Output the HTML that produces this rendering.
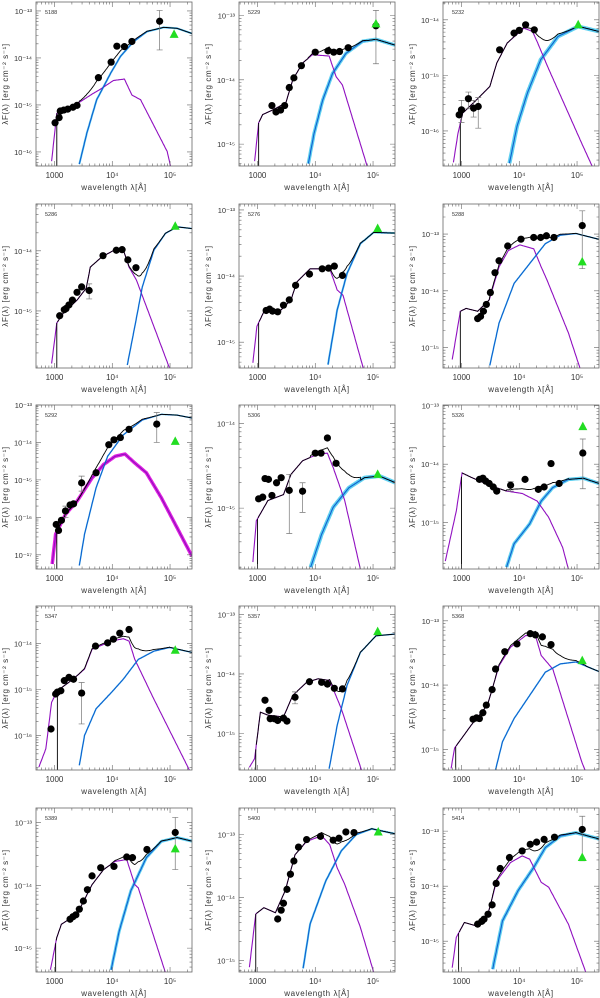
<!DOCTYPE html>
<html><head><meta charset="utf-8"><title>SED fits</title>
<style>
html,body{margin:0;padding:0;background:#fff;}
svg{display:block;font-family:"Liberation Sans",sans-serif;}
</style></head>
<body>
<svg id="fig" xmlns="http://www.w3.org/2000/svg" width="600" height="998" viewBox="0 0 600 998"></svg>
<script>
// ---- data (log10 wavelength [A], log10 lambda*F [erg cm^-2 s^-1]) ----
const panelIds=['5188','5229','5232','5286','5276','5288','5292','5306','5326','5347','5357','5368','5389','5400','5414'];
const yTop=[-12.81,-12.79,-13.68,-13.22,-12.91,-12.47,-13.0,-13.78,-12.99,-13.19,-12.86,-12.77,-12.77,-12.58,-12.58];
const yBot=[-16.30,-15.34,-16.63,-15.95,-15.39,-15.36,-17.38,-15.72,-15.79,-16.75,-15.61,-15.32,-15.38,-15.18,-15.56];
const xMin=2.68, xMax=5.38;
const xTickVals=[3,4,5];
const xTickLabels=['1000','10⁴','10⁵'];
const photLam=[
[3.01,3.08,3.10,3.16,3.23,3.32,3.39,3.76,3.98,4.08,4.21,4.34,4.82],
[3.25,3.32,3.40,3.47,3.55,3.63,3.76,4.0,4.22,4.32,4.42,4.57,5.05],
[2.96,3.0,3.12,3.21,3.29,3.66,3.91,4.0,4.11,4.26],
[3.09,3.17,3.2,3.25,3.31,3.39,3.47,3.6,3.84,4.07,4.17,4.27,4.41],
[3.15,3.21,3.26,3.35,3.45,3.55,3.66,3.9,4.12,4.23,4.33,4.47],
[3.28,3.33,3.38,3.43,3.5,3.58,3.65,3.8,4.03,4.25,4.37,4.47,4.6,5.09],
[3.03,3.07,3.12,3.19,3.27,3.33,3.47,3.72,3.94,4.03,4.14,4.29,4.77],
[3.02,3.09,3.13,3.19,3.25,3.33,3.41,3.55,3.78,4.0,4.1,4.21,4.36],
[3.31,3.37,3.42,3.48,3.55,3.61,3.85,4.1,4.33,4.43,4.55,4.69,5.1],
[2.94,3.02,3.05,3.11,3.17,3.25,3.33,3.47,3.71,3.92,4.02,4.13,4.29],
[3.13,3.2,3.22,3.29,3.35,3.45,3.51,3.65,3.9,4.11,4.21,4.33,4.47],
[3.2,3.26,3.31,3.37,3.43,3.53,3.59,3.75,3.96,4.19,4.28,4.4,4.55],
[3.27,3.32,3.37,3.43,3.5,3.57,3.65,3.8,4.03,4.25,4.35,4.6,5.09],
[3.35,3.41,3.45,3.51,3.57,3.63,3.71,3.85,4.09,4.31,4.41,4.53,4.67],
[3.28,3.35,3.39,3.46,3.53,3.6,3.67,3.83,4.05,4.19,4.3,4.43,4.61,5.09]];
const photFlux=[
[-15.38,-15.27,-15.13,-15.11,-15.09,-15.05,-15.01,-14.42,-14.09,-13.75,-13.76,-13.65,-13.22],
[-14.40,-14.50,-14.47,-14.40,-14.12,-13.97,-13.78,-13.57,-13.55,-13.57,-13.56,-13.50,-13.16],
[-15.71,-15.62,-15.42,-15.59,-15.56,-14.54,-14.24,-14.19,-14.09,-14.18],
[-15.08,-14.98,-14.96,-14.9,-14.82,-14.69,-14.6,-14.66,-14.08,-13.99,-13.98,-14.15,-14.28],
[-14.52,-14.5,-14.53,-14.54,-14.44,-14.36,-14.14,-13.97,-13.89,-13.88,-13.85,-13.99],
[-14.49,-14.45,-14.36,-14.24,-14.03,-13.68,-13.47,-13.21,-13.09,-13.06,-13.06,-13.03,-13.06,-12.85],
[-16.19,-16.35,-16.08,-15.83,-15.67,-15.64,-15.08,-14.81,-14.06,-13.93,-13.87,-13.65,-13.51],
[-14.89,-14.87,-14.65,-14.66,-14.85,-14.7,-14.64,-14.79,-14.8,-14.35,-14.35,-14.17,-14.47],
[-14.26,-14.24,-14.29,-14.33,-14.39,-14.46,-14.36,-14.26,-14.43,-14.39,-13.99,-14.33,-13.81],
[-15.86,-15.1,-15.06,-15.03,-14.81,-14.74,-14.78,-15.08,-14.06,-13.99,-13.91,-13.78,-13.7],
[-14.44,-14.61,-14.75,-14.75,-14.78,-14.74,-14.79,-14.39,-14.13,-14.14,-14.17,-14.24,-14.25],
[-14.53,-14.51,-14.52,-14.43,-14.31,-14.07,-13.75,-13.48,-13.36,-13.2,-13.22,-13.25,-13.37],
[-14.54,-14.5,-14.47,-14.38,-14.25,-14.07,-13.85,-13.72,-13.7,-13.55,-13.56,-13.43,-13.16],
[-14.34,-14.2,-14.09,-13.87,-13.63,-13.42,-13.2,-13.08,-13.03,-13.09,-13.06,-12.96,-12.97],
[-14.69,-14.64,-14.6,-14.51,-14.34,-13.95,-13.68,-13.48,-13.36,-13.24,-13.2,-13.15,-13.11,-12.97]];
// error bars: [panel, logLam, lowLogF, highLogF]
const errBars=[[0,4.82,-13.83,-12.99],[1,5.05,-13.75,-12.92],[2,3.0,-15.85,-15.45],[2,3.12,-15.6,-15.3],[2,3.21,-15.75,-15.45],[2,3.29,-15.95,-15.4],
[3,3.6,-14.8,-14.55],[5,5.09,-13.61,-12.59],[6,4.77,-14.0,-13.2],[6,3.47,-15.3,-14.9],[6,3.19,-16.0,-15.7],[7,3.55,-15.3,-14.6],[7,3.78,-15.05,-14.7],
[8,5.1,-14.42,-13.57],[8,3.85,-14.46,-14.3],[9,3.47,-15.75,-14.85],[10,3.65,-14.5,-14.3],[12,5.09,-13.75,-12.92],[14,5.09,-13.54,-12.73]];
const triLam=[5.07,5.05,5.02,5.09,5.08,5.09,5.09,5.08,5.1,5.09,5.08,5.09,5.09,5.09,5.09];
const triFlux=[-13.50,-13.13,-14.09,-13.59,-13.28,-13.49,-13.97,-14.6,-13.36,-14.15,-13.29,-13.62,-13.42,-12.96,-13.48];
const starLam=[
[2.94,3.04,3.21,3.45,3.65,3.79,4.02,4.21,4.34,4.49,4.95,5.01],
[2.94,3.02,3.09,3.26,3.49,3.61,3.78,3.95,4.24,4.36,4.47,4.9],
[2.85,2.94,3.02,3.26,3.49,3.61,3.79,4.08,4.23,4.32,4.49,5.08,5.26],
[2.94,3.04,3.15,3.39,3.55,3.62,3.82,4.05,4.19,4.29,4.42,4.99],
[2.91,2.99,3.11,3.41,3.58,3.68,3.91,4.25,4.38,4.48,4.83],
[2.83,2.98,3.08,3.28,3.48,3.65,3.81,4.01,4.25,4.38,4.48,4.85,5.05],
[2.95,3.02,3.19,3.39,3.65,3.85,4.05,4.22,4.39,4.59,4.85,5.39],
[2.91,2.98,3.18,3.45,3.58,3.78,4.05,4.21,4.31,4.51,4.78],
[2.71,2.91,3.01,3.18,3.51,3.78,4.05,4.31,4.51,4.75,4.85],
[2.72,2.85,2.95,3.05,3.32,3.52,3.65,3.99,4.19,4.29,4.39,4.72,5.35],
[2.85,2.95,3.05,3.18,3.45,3.61,3.85,4.05,4.25,4.45,4.81],
[2.81,2.88,3.17,3.45,3.65,3.85,4.11,4.28,4.38,4.58,5.08,5.15],
[2.92,3.04,3.12,3.39,3.65,3.85,4.05,4.25,4.39,4.45,4.65,4.92],
[2.85,2.97,3.11,3.31,3.48,3.65,3.85,4.11,4.25,4.38,4.51,4.78,5.01],
[2.83,2.91,3.05,3.25,3.45,3.61,3.85,4.05,4.18,4.38,4.51,4.85,5.15]];
const starFlux=[
[-16.31,-15.18,-15.07,-14.93,-14.77,-14.67,-14.48,-14.45,-14.79,-14.89,-15.99,-16.31],
[-15.35,-14.67,-14.54,-14.47,-14.36,-14.0,-13.74,-13.61,-13.63,-13.95,-14.08,-15.35],
[-16.63,-16.04,-15.68,-15.44,-15.2,-14.78,-14.42,-14.15,-14.21,-14.42,-14.84,-16.22,-16.63],
[-15.95,-15.2,-15.04,-14.82,-14.62,-14.27,-14.1,-13.98,-13.98,-14.27,-14.49,-15.95],
[-15.39,-14.76,-14.54,-14.51,-14.36,-14.09,-13.89,-13.89,-14.21,-14.29,-15.39],
[-15.27,-14.36,-14.31,-14.36,-14.16,-13.58,-13.29,-13.19,-13.26,-13.58,-13.81,-14.74,-15.36],
[-17.38,-16.45,-15.92,-15.57,-14.95,-14.59,-14.37,-14.31,-14.55,-14.81,-15.48,-17.07],
[-15.72,-15.15,-14.91,-14.84,-14.6,-14.44,-14.36,-14.35,-14.52,-14.91,-15.72],
[-15.7,-14.8,-14.15,-14.23,-14.37,-14.46,-14.5,-14.63,-14.91,-15.42,-15.79],
[-16.72,-16.29,-15.28,-15.03,-14.78,-14.56,-14.13,-13.95,-13.9,-13.95,-14.35,-15.21,-16.79],
[-15.58,-15.42,-14.64,-14.69,-14.72,-14.36,-14.14,-14.08,-14.11,-14.58,-15.64],
[-15.35,-14.98,-14.62,-14.31,-13.7,-13.41,-13.23,-13.23,-13.54,-13.75,-15.19,-15.35],
[-15.39,-14.83,-14.62,-14.46,-13.99,-13.75,-13.62,-13.59,-13.99,-14.04,-14.62,-15.39],
[-15.18,-14.26,-14.16,-14.24,-13.89,-13.32,-13.11,-13.02,-13.16,-13.53,-13.79,-14.47,-15.18],
[-15.56,-14.93,-14.66,-14.72,-14.54,-13.9,-13.57,-13.45,-13.51,-13.93,-14.02,-14.69,-15.56]];
const dustLam=[
[3.42,3.56,3.73,3.97,4.14,4.37,4.6,4.89,5.12,5.38],
[3.87,3.98,4.13,4.30,4.53,4.82,5.05,5.38],
[3.82,3.96,4.14,4.37,4.67,5.02,5.38],
[4.25,4.39,4.52,4.72,4.92,5.12,5.39],
[4.21,4.38,4.55,4.78,5.01,5.39],
[3.48,3.65,3.91,4.18,4.45,4.71,4.98,5.41],
[3.42,3.52,3.72,3.92,4.19,4.52,4.85,5.12,5.39],
[3.91,4.11,4.31,4.58,4.85,5.11,5.39],
[3.77,3.91,4.18,4.38,4.58,4.85,5.11,5.41],
[3.42,3.52,3.72,3.99,4.19,4.45,4.72,4.99,5.39],
[4.23,4.38,4.55,4.78,5.05,5.39],
[3.58,3.71,3.91,4.18,4.45,4.71,4.98,5.41],
[3.97,4.12,4.32,4.59,4.85,5.12,5.39],
[3.78,3.91,4.18,4.45,4.71,4.98,5.39],
[3.53,3.71,3.98,4.25,4.45,4.71,4.98,5.41]];
const dustFlux=[
[-16.31,-15.6,-14.89,-14.33,-13.97,-13.65,-13.44,-13.35,-13.37,-13.48],
[-15.35,-14.83,-14.31,-13.9,-13.59,-13.40,-13.37,-13.46],
[-16.63,-15.92,-15.32,-14.72,-14.3,-14.12,-14.21],
[-15.95,-15.26,-14.6,-13.99,-13.71,-13.6,-13.63],
[-15.39,-14.51,-13.96,-13.51,-13.34,-13.35],
[-15.36,-14.57,-13.87,-13.52,-13.17,-13.02,-12.99,-13.1],
[-17.38,-16.45,-15.21,-14.37,-13.8,-13.4,-13.25,-13.27,-13.35],
[-15.72,-15.31,-14.99,-14.76,-14.64,-14.62,-14.7],
[-15.79,-15.36,-15.02,-14.63,-14.4,-14.26,-14.24,-14.34],
[-16.72,-16.0,-15.42,-15.06,-14.78,-14.35,-14.17,-14.09,-14.2],
[-15.64,-14.86,-14.19,-13.64,-13.36,-13.33],
[-15.35,-14.88,-14.52,-14.16,-13.8,-13.67,-13.64,-13.8],
[-15.39,-14.73,-14.09,-13.56,-13.3,-13.24,-13.3],
[-15.18,-14.42,-13.74,-13.26,-13.0,-12.91,-12.99],
[-15.56,-14.63,-14.08,-13.66,-13.3,-13.09,-13.03,-13.15]];
// short-wavelength cutoff of the total (extincted) model, log10 A
const totCut=[3.04,3.02,2.98,3.04,3.02,2.98,3.04,3.0,3.0,3.05,2.97,2.9,3.02,2.97,2.95];
const bandWidth=[2,3.5,4,1.5,2,1.5,1.5,4,3.5,1.5,1.5,1.5,3,2,3.5];
</script>
<script>
const NS='http://www.w3.org/2000/svg';
const svg=document.getElementById('fig');
const colX=[36,239,443], rowY=[2,204,405,606,808], PW=156, PH=164;
function mk(tag,attrs,parent){const e=document.createElementNS(NS,tag);for(const k in attrs)e.setAttribute(k,attrs[k]);(parent||svg).appendChild(e);return e;}
function interp(xs,ys,x){ if(x<xs[0]||x>xs[xs.length-1])return null;
  for(let i=0;i<xs.length-1;i++){ if(x>=xs[i]&&x<=xs[i+1]){const t=(x-xs[i])/(xs[i+1]-xs[i]||1);return ys[i]+t*(ys[i+1]-ys[i]);} } return ys[ys.length-1]; }
const sup={'-':'⁻','0':'⁰','1':'¹','2':'²','3':'³','4':'⁴','5':'⁵','6':'⁶','7':'⁷','8':'⁸','9':'⁹'};
panelIds.forEach((pid,p)=>{
  const x0=colX[p%3], y0=rowY[Math.floor(p/3)];
  const g=mk('g',{});
  
  
  const sx=v=>x0+(v-xMin)/(xMax-xMin)*PW;
  const sy=v=>y0+(yTop[p]-v)/(yTop[p]-yBot[p])*PH;
  const cp=mk('clipPath',{id:'c'+p},g); mk('rect',{x:x0,y:y0,width:PW,height:PH},cp);
  const plot=mk('g',{'clip-path':'url(#c'+p+')'},g);
  const grid=[]; for(let v=xMin;v<=xMax+0.001;v+=0.01)grid.push(v);
  const path=(fn)=>{let d='',pen=false;grid.forEach(v=>{const f=fn(v);if(f===null){pen=false;return;}d+=(pen?'L':'M')+sx(v).toFixed(1)+','+sy(f).toFixed(1);pen=true;});return d;};
  const dustF=v=>interp(dustLam[p],dustFlux[p],v);
  const starF=v=>interp(starLam[p],starFlux[p],v);
  const band=mk('path',{d:path(dustF),fill:'none',stroke:'#5fd0f0','stroke-width':bandWidth[p],'stroke-linejoin':'round'},plot);
   
  if(p===6){const sb=mk('path',{d:path(starF),fill:'none',stroke:'#e020e0','stroke-width':3.5},plot);
     }
  const st=mk('path',{d:path(starF),fill:'none',stroke:'#9010c0','stroke-width':1.1},plot);
   
  const du=mk('path',{d:path(dustF),fill:'none',stroke:'#1060d0','stroke-width':1.1},plot);
   
  const totF0=v=>{const a=starF(v),b=dustF(v);if(a===null&&b===null)return null;let s=0;if(a!==null)s+=Math.pow(10,a+15);if(b!==null)s+=Math.pow(10,b+15);return Math.log10(s)-15;};
  const totF=v=>v<totCut[p]?null:totF0(v);
  const c0=totF0(totCut[p]);
  const tot=mk('path',{d:path(totF)+(c0!==null?`M${sx(totCut[p])},${sy(c0)}V${y0+PH+2}`:''),fill:'none',stroke:'#000','stroke-width':0.9},plot);
   
  errBars.filter(e=>e[0]===p).forEach(e=>{
    const X=sx(e[1]);
    const eb=mk('path',{d:`M${X},${sy(e[2])}V${sy(e[3])}M${X-3},${sy(e[2])}h6M${X-3},${sy(e[3])}h6`,stroke:'#777','stroke-width':0.7,fill:'none'},plot);
     
  });
  photLam[p].forEach((l,i)=>{
    const c=mk('circle',{cx:sx(l),cy:sy(photFlux[p][i]),r:3.6,fill:'#000'},plot);
     
  });
  const tx=sx(triLam[p]), ty=sy(triFlux[p]);
  const tr=mk('polygon',{points:`${tx-4.5},${ty+3.5} ${tx+4.5},${ty+3.5} ${tx},${ty-5}`,fill:'#22dd22'},plot);
   
  const fr=mk('rect',{x:x0,y:y0,width:PW,height:PH,fill:'none',stroke:'#666','stroke-width':0.8},g);
   
  let tk='';
  for(let d=2;d<=5;d++)for(let k=1;k<10;k++){const v=d+Math.log10(k);if(v<xMin||v>xMax)continue;const X=sx(v),L=k===1?5:2.5;tk+=`M${X},${y0+PH}v${-L}M${X},${y0}v${L}`;}
  for(let d=-18;d<=-12;d++)for(let k=1;k<10;k++){const v=d+Math.log10(k);if(v>yTop[p]||v<yBot[p])continue;const Y=sy(v),L=k===1?5:2.5;tk+=`M${x0},${Y}h${L}M${x0+PW},${Y}h${-L}`;}
  mk('path',{d:tk,stroke:'#666','stroke-width':0.6,fill:'none'},g);
  xTickVals.forEach((v,i)=>{const t=mk('text',{x:sx(v),y:y0+PH+12,'font-size':8,'text-anchor':'middle',fill:'#333'},g);t.textContent=xTickLabels[i];
     });
  for(let d=-18;d<=-12;d++){ if(d>yTop[p]||d<yBot[p])continue;
    const t=mk('text',{x:x0-4,y:sy(d)+3,'font-size':7.5,'text-anchor':'end',fill:'#333'},g);
    t.textContent='10'+String(d).split('').map(c=>sup[c]).join('');
     }
  const xt=mk('text',{x:x0+PW/2,y:y0+PH+24,'font-size':8,'text-anchor':'middle',fill:'#333','letter-spacing':'0.6'},g);
  xt.textContent='wavelength λ[Å]';
   
  const yt=mk('text',{x:0,y:0,'font-size':8,'text-anchor':'middle',fill:'#333','letter-spacing':'0.6',transform:`translate(${x0-28},${y0+PH/2}) rotate(-90)`},g);
  yt.textContent='λF(λ) [erg cm⁻² s⁻¹]';
   
  const id=mk('text',{x:x0+9,y:y0+12,'font-size':5.5,fill:'#333'},g);
  id.textContent=pid;
   
});
</script>
</body></html>
